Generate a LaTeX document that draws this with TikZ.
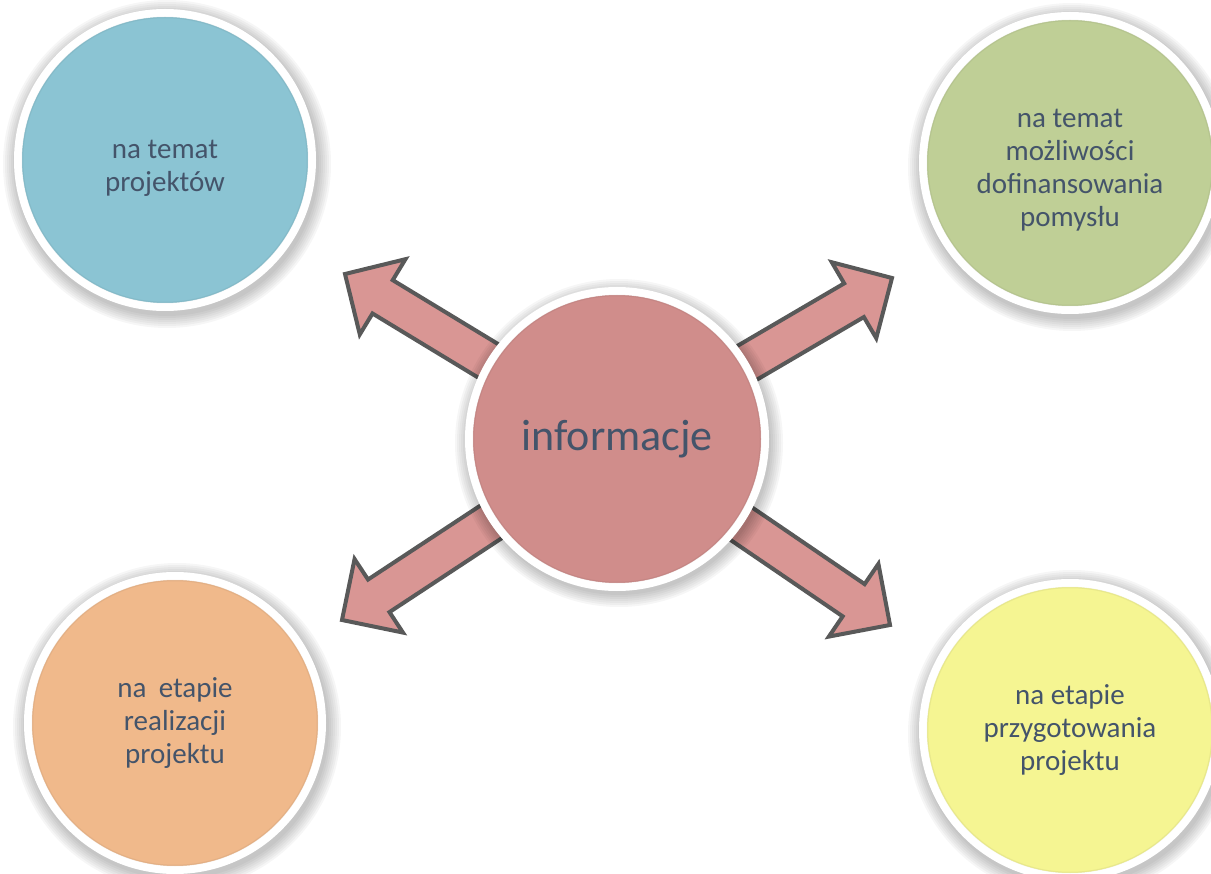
\documentclass[tikz,border=0pt]{standalone}
\usepackage{fontspec}
\setmainfont{Carlito}
\usetikzlibrary{calc}
\definecolor{txt}{HTML}{44546A}
\definecolor{cblue}{HTML}{8BC4D3}
\definecolor{cgreen}{HTML}{BFCF96}
\definecolor{corange}{HTML}{F0B98B}
\definecolor{cyellow}{HTML}{F5F592}
\definecolor{cpink}{HTML}{D08D8B}
\definecolor{afill}{HTML}{D99694}
\definecolor{aline}{HTML}{595959}
\tikzset{
  bub/.style={circle, minimum size=294pt, inner sep=0pt, line width=8pt, draw=white,
    fill=#1, text=txt, align=center, font=\fontsize{29}{33}\selectfont},
  lbl/.style={inner sep=0pt, text=txt, align=center, font=\fontsize{29}{33}\selectfont},
  rim/.style={draw=#1!80!black, draw opacity=0.25, line width=1.5pt},
  shade/.style={fill=black, opacity=0.035},
  arr/.style={fill=afill, draw=aline, line width=4pt, line join=miter},
}
\newcommand\bubshadow[1]{%
  \foreach \r in {152,154,...,164} \fill[shade] ($(#1)+(2,4)$) circle[radius=\r pt];}
\newcommand\bubrim[3]{\draw[rim=#2] (#1) circle[radius=#3 pt];}
\newcommand\infoarrow[1]{%
  \coordinate (#1b) at ($(#1)!44pt!(c)$);
  \draw[arr] (#1) -- ($(#1b)!44pt!90:(c)$) -- ($(#1b)!19.5pt!90:(c)$)
    -- ($(c)!19.5pt!-90:(#1)$) -- ($(c)!19.5pt!90:(#1)$)
    -- ($(#1b)!19.5pt!-90:(c)$) -- ($(#1b)!44pt!-90:(c)$) -- cycle;}
\begin{document}
\begin{tikzpicture}[x=1pt,y=-1pt]
\useasboundingbox (0,0) rectangle (1211,874);
\clip (0,0) rectangle (1211,874);
% centres
\coordinate (c) at (617,439);
\coordinate (a1) at (345,274);
\coordinate (a2) at (892,278);
\coordinate (a3) at (342,620);
\coordinate (a4) at (890,625);
\coordinate (ptl) at (165,160);
\coordinate (ptr) at (1070,163);
\coordinate (pbl) at (175,723);
\coordinate (pbr) at (1070,730);
% shadows
\bubshadow{ptl}\bubshadow{ptr}\bubshadow{pbl}\bubshadow{pbr}
% arrows
\infoarrow{a1}\infoarrow{a2}\infoarrow{a3}\infoarrow{a4}
\bubshadow{c}
% bubbles
\node[bub=cblue] (tl) at (ptl) {};
\node[lbl] (tlt) at ($(tl)+(0,8)$) {na temat\\projektów};
\node[bub=cgreen] (tr) at (ptr) {};
\node[lbl] (trt) at ($(tr)+(0,7)$) {na temat\\możliwości\\dofinansowania\\pomysłu};
\node[bub=corange] (bl) at (pbl) {na\hspace{0.2em} etapie\\realizacji\\projektu};
\node[bub=cyellow] (br) at (pbr) {na etapie\\przygotowania\\projektu};
\node[bub=cpink, minimum size=296pt, font=\fontsize{44}{50}\selectfont] (ctr) at (c) {informacje};
\bubrim{tl}{cblue}{142.5}
\bubrim{tr}{cgreen}{142.5}
\bubrim{bl}{corange}{142.5}
\bubrim{br}{cyellow}{142.5}
\bubrim{ctr}{cpink}{143.5}
\end{tikzpicture}
\end{document}
